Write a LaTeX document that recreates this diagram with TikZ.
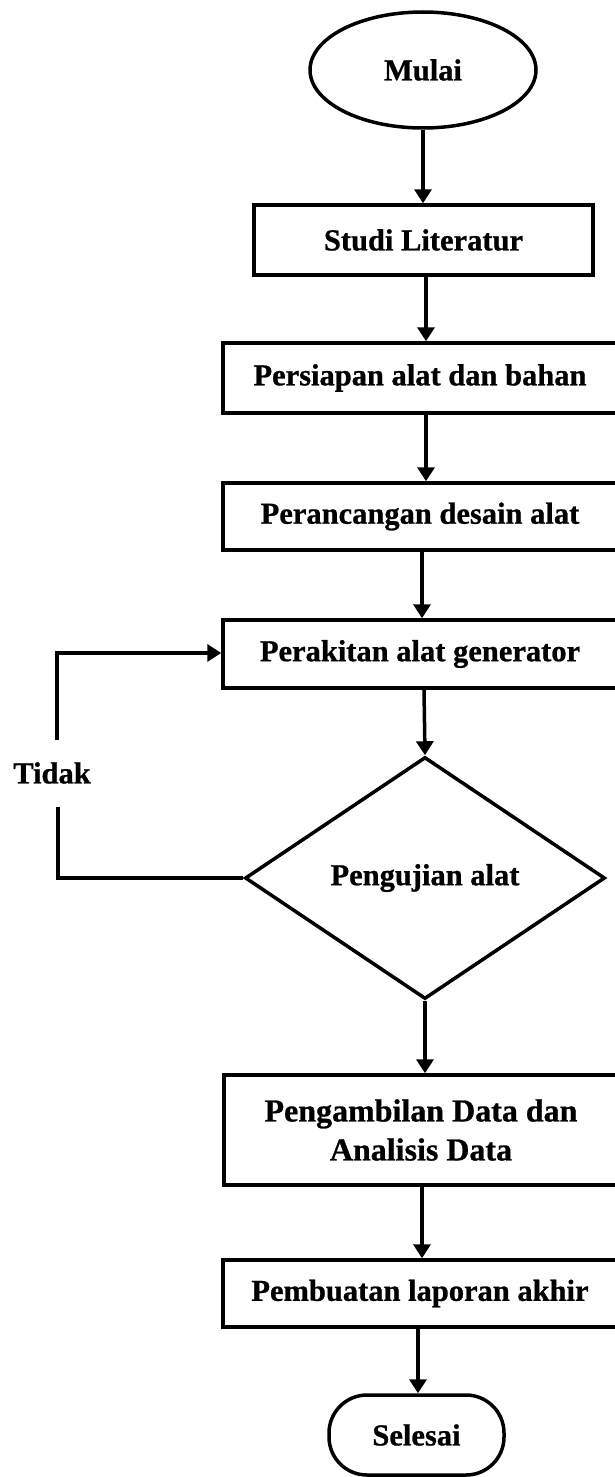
\documentclass[tikz,border=0pt]{standalone}
\usepackage{fontspec}
\setmainfont{Liberation Serif}
\newfontfamily\heavyfont{Liberation Serif Bold}[FakeBold=0.8]
\usetikzlibrary{shapes.geometric,arrows.meta}
\begin{document}
\begin{tikzpicture}[x=1pt,y=-1pt,
  lw/.style={line width=3.5pt},
  txt/.style={font=\heavyfont\fontsize{30.5}{40}\selectfont, align=center, inner sep=0pt},
  bigtxt/.style={font=\heavyfont\fontsize{32}{39}\selectfont},
  procbox/.style={txt, lw, draw, rectangle, minimum width=394pt},
  arr/.style={lw, -{Triangle[width=17pt,length=14pt]}}
]
\useasboundingbox (0,0) rectangle (615,1477);
\clip (0,0) rectangle (615,1477);
\fill[white] (0,0) rectangle (615,1477);

\node[txt, lw, draw, ellipse, minimum width=226pt, minimum height=116pt] (mulai) at (423,70) {Mulai};
\node[procbox, minimum width=339pt, minimum height=70pt] (studi) at (423.5,240) {Studi Literatur};
\node[procbox, minimum height=70pt] (persiapan) at (420,378) {Persiapan alat dan bahan};
\node[procbox, minimum height=67pt] (perancangan) at (420,516.5) {Perancangan desain alat};
\node[procbox, minimum height=68pt] (perakitan) at (420,654) {Perakitan alat generator};
\node[txt, lw, draw, diamond, minimum width=360pt, minimum height=242pt] (uji) at (425,878) {Pengujian alat};
\node[procbox, bigtxt, minimum height=110pt] (ambil) at (421,1130) {Pengambilan Data dan\\Analisis Data};
\node[procbox, minimum height=67pt] (laporan) at (420,1293.5) {Pembuatan laporan akhir};
\node[txt, lw, draw, rectangle, rounded corners=38pt, minimum width=175pt, minimum height=80pt] (selesai) at (416.5,1435) {Selesai};
\node[txt] (tidak) at (52,773) {Tidak};

\coordinate (c1) at (58,878);
\coordinate (g1) at (58,807);
\coordinate (g2) at (57,740);
\coordinate (c2) at (57,653);

\draw[arr] (mulai.south) -- (mulai.south |- studi.north);
\draw[arr] (studi.south -| 426,0) -- (persiapan.north -| 426,0);
\draw[arr] (persiapan.south -| 426,0) -- (perancangan.north -| 426,0);
\draw[arr] (perancangan.south -| 422,0) -- (perakitan.north -| 422,0);
\draw[arr] (perakitan.south -| 424,0) -- (uji.north);
\draw[arr] (uji.south) -- (uji.south |- ambil.north);
\draw[arr] (ambil.south -| 422,0) -- (laporan.north -| 422,0);
\draw[arr] (laporan.south -| 418,0) -- (selesai.north -| 418,0);

\draw[lw] (uji.west) -- (c1) -- (g1);
\draw[arr] (g2) -- (c2) -- (c2 -| perakitan.west);
\end{tikzpicture}
\end{document}
